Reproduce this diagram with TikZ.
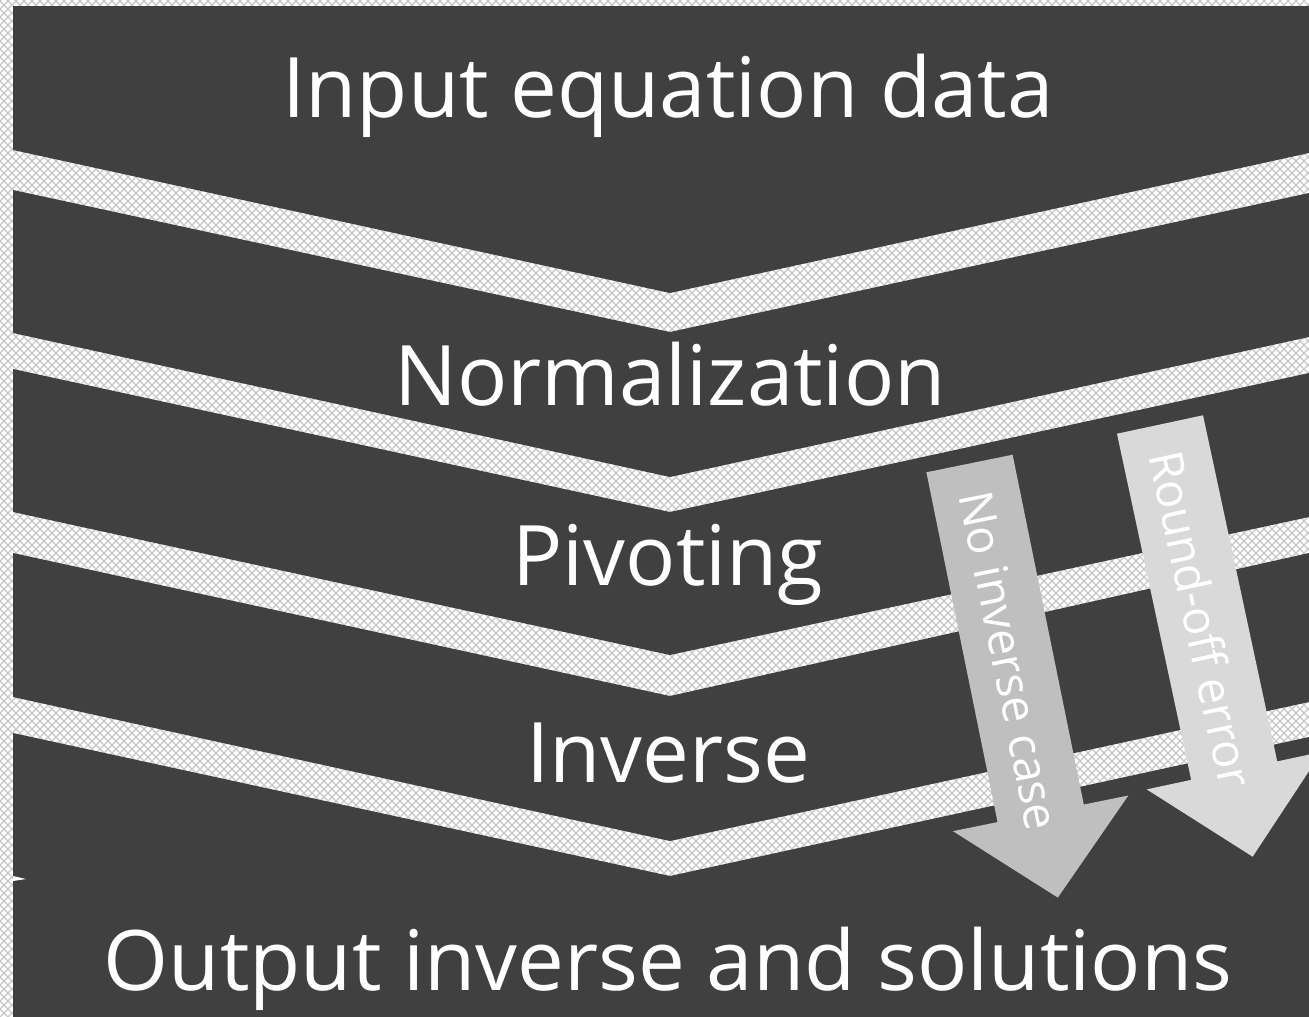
\documentclass[tikz,border=0pt]{standalone}
\usepackage{fontspec}
\setmainfont{Open Sans}
\usetikzlibrary{patterns}
\definecolor{dark}{RGB}{64,64,64}
\definecolor{arrowA}{RGB}{191,191,191}
\definecolor{arrowB}{RGB}{217,217,217}
\definecolor{patgray}{RGB}{200,200,200}
\pgfdeclarepatternformonly{bgcross}{\pgfqpoint{-1pt}{-1pt}}{\pgfqpoint{9pt}{9pt}}{\pgfqpoint{8pt}{8pt}}{%
  \pgfsetlinewidth{1.1pt}%
  \pgfpathmoveto{\pgfqpoint{0pt}{0pt}}\pgfpathlineto{\pgfqpoint{8pt}{8pt}}%
  \pgfpathmoveto{\pgfqpoint{0pt}{8pt}}\pgfpathlineto{\pgfqpoint{8pt}{0pt}}%
  \pgfusepath{stroke}}
\tikzset{
  band/.style={fill=dark},
  bigtext/.style={text=white, anchor=base, inner sep=0pt, font=\fontsize{83.5pt}{100pt}\selectfont},
  arrowtext/.style={text=white, inner sep=0pt, font=\fontsize{47pt}{56pt}\selectfont},
}
\begin{document}
\begin{tikzpicture}[x=1pt,y=-1pt]
\useasboundingbox (0,0) rectangle (1309,1017);
\fill[white] (0,0) rectangle (1309,1017);
\fill[pattern=bgcross, pattern color=patgray] (0,0) rectangle (1309,1017);
% chevron bands
\fill[band] (13,6) -- (1309,6) -- (1309,153) -- (670,293) -- (13,150) -- cycle;
\fill[band] (13,190) -- (670,332) -- (1309,193) -- (1309,337) -- (670,477) -- (13,333) -- cycle;
\fill[band] (13,369) -- (670,512) -- (1309,373) -- (1309,517) -- (670,655) -- (13,512) -- cycle;
\fill[band] (13,553) -- (670,696) -- (1309,553) -- (1309,702) -- (670,841) -- (13,697) -- cycle;
\fill[band] (13,733) -- (670,876) -- (1309,737) -- (1309,1017) -- (13,1017) -- cycle;
\fill[white] (13,876) -- (26,879) -- (13,881) -- cycle;
% labels
\node[bigtext] (input) at (668,117) {Input equation data};
\node[bigtext] (norm) at (670,405) {Normalization};
\node[bigtext] (piv) at (668,585) {Pivoting};
\node[bigtext] (inv) at (668,782) {Inverse};
\node[bigtext] (out) at (668,990) {Output inverse and solutions};
% side arrows
\begin{scope}[shift={(969.5,463.5)}, rotate=11.5]
  \fill[arrowA] (-44,0) -- (44,0) -- (44,357) -- (89.5,357) -- (0,443) -- (-89.5,357) -- (-44,357) -- cycle;
  \node[arrowtext, rotate=-78.5] (noinv) at (0,201) {No inverse case};
\end{scope}
\begin{scope}[shift={(1160,424.5)}, rotate=12.1]
  \fill[arrowB] (-44,0) -- (44,0) -- (44,354) -- (89.5,354) -- (0,442) -- (-89.5,354) -- (-44,354) -- cycle;
  \node[arrowtext, rotate=-77.9] (round) at (0,199) {Round-off error};
\end{scope}
\end{tikzpicture}
\end{document}
